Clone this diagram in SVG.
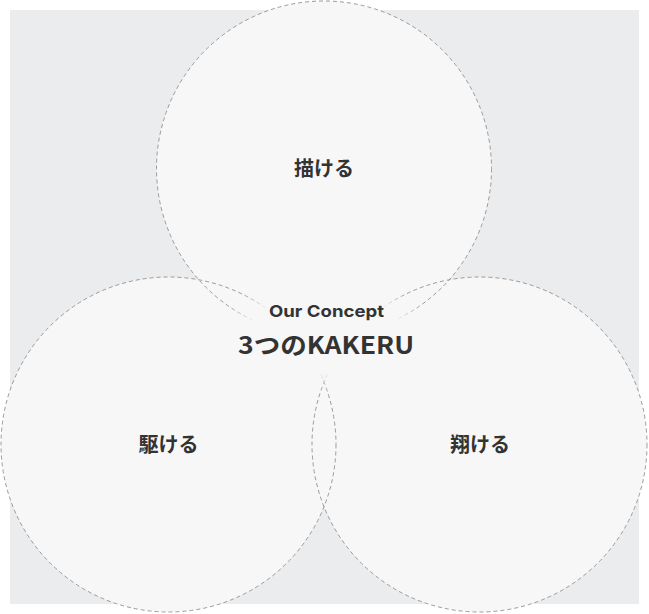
<svg xmlns="http://www.w3.org/2000/svg" width="649" height="614" viewBox="0 0 649 614">
<defs>
<style>
.fill{fill:#f7f7f7;stroke:none}
.ring{fill:none;stroke:#9a9a9a;stroke-width:1;stroke-dasharray:4 3}
.jp{font-family:"Noto Sans CJK JP","Noto Sans",sans-serif;font-weight:700;fill:#333333;text-anchor:middle}
.lat{font-family:Inter,"Noto Sans",sans-serif;font-weight:700;fill:#333333;text-anchor:middle}
</style>
<radialGradient id="glow" cx="0.5" cy="0.5" r="0.5">
<stop offset="0" stop-color="#f7f7f7" stop-opacity="1"/>
<stop offset="0.65" stop-color="#f7f7f7" stop-opacity="1"/>
<stop offset="1" stop-color="#f7f7f7" stop-opacity="0"/>
</radialGradient>
</defs>
<rect x="10" y="10" width="629" height="594" fill="#ebecee"/>
<g id="fills">
<circle class="fill" cx="324" cy="168.5" r="167.5"/>
<circle class="fill" cx="168.5" cy="444.5" r="167.5"/>
<circle class="fill" cx="479.5" cy="444.5" r="167.5"/>
</g>
<g id="connectors">
<circle class="ring" cx="324" cy="168.5" r="167.5"/>
<circle class="ring" cx="168.5" cy="444.5" r="167.5"/>
<circle class="ring" cx="479.5" cy="444.5" r="167.5"/>
</g>
<ellipse cx="326" cy="334" rx="112" ry="58" fill="url(#glow)"/>
<g id="node-kaku">
<text class="jp" x="324" y="176" font-size="20">描ける</text>
</g>
<g id="node-kakeru-left">
<text class="jp" x="168.5" y="452" font-size="20">駆ける</text>
</g>
<g id="node-kakeru-right">
<text class="jp" x="480" y="452" font-size="20">翔ける</text>
</g>
<g id="node-center">
<text class="lat" x="326.5" y="317" font-size="16.5" font-weight="800" textLength="115" lengthAdjust="spacingAndGlyphs">Our Concept</text>
<text class="jp" x="326" y="354" font-size="24" font-weight="500" textLength="176" lengthAdjust="spacingAndGlyphs">3つのKAKERU</text>
</g>
</svg>
